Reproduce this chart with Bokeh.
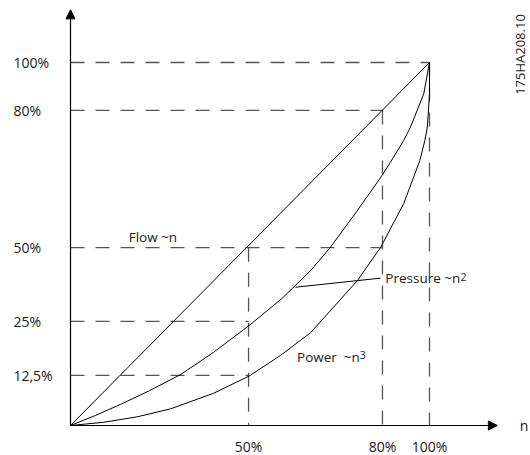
import math
from bokeh.plotting import figure
from bokeh.models import Range1d, Arrow, NormalHead
from bokeh.core.properties import value
from bokeh.embed import file_html
from bokeh.resources import INLINE

# ---- data (schematic affinity-law chart; axis positions are not linear) ----
y_tick_labels = ["100%", "80%", "50%", "25%", "12,5%"]
y_tick_pos = [100, 86.8, 49.0, 28.7, 13.8]
x_tick_labels = ["50%", "80%", "100%"]
x_tick_pos = [49.6, 86.9, 100]

flow_x = [0, 100]
flow_y = [0, 100]

pressure_x = [0, 7.0, 13.9, 22.0, 30.6, 39.9, 49.7, 58.8, 66.9, 72.4, 79.6, 86.8, 89.1, 92.8, 94.7, 98.4, 100]
pressure_y = [0, 2.8, 5.8, 9.6, 14.0, 20.2, 27.5, 34.9, 42.7, 49.1, 58.8, 68.9, 72.5, 78.5, 82.2, 91.4, 100]

power_x = [0, 9.3, 18.6, 27.9, 39.9, 49.7, 58.5, 66.9, 79.9, 86.4, 92.8, 97.3, 98.7, 99.4, 100, 100]
power_y = [0, 0.9, 2.4, 4.6, 8.9, 13.6, 19.3, 25.6, 39.9, 49.1, 61.1, 73.0, 78.5, 82.2, 91.4, 100]

curve_labels = ["Flow ~n", "Pressure ~n", "Power\u00a0\u00a0~n"]
curve_label_x = [16.2, 87.7, 63.1]
curve_label_y = [51.8, 40.6, 18.8]
sup_labels = ["2", "3"]
sup_x = [108.6, 80.6]
sup_y = [40.9, 19.4]
leader_x = [62.7, 86.4]
leader_y = [38.1, 40.6]

x_axis_name = "n"
doc_id = "175HA208.10"

FONT = "Open Sans"
TXT = "#1a1a1a"
DASH = "#555555"

p = figure(width=530, height=455,
           x_range=Range1d(-19.50, 128.13), y_range=Range1d(-8.26, 117.08),
           x_axis_type=None, y_axis_type=None,
           output_backend="svg", toolbar_location=None, min_border=0)
p.grid.visible = False
p.outline_line_color = None
p.background_fill_color = "white"
p.border_fill_color = "white"

# dashed guide lines
h_end = [x_tick_pos[2], x_tick_pos[1], x_tick_pos[1], x_tick_pos[0], x_tick_pos[0]]
p.segment(x0=[0] * len(y_tick_pos), y0=y_tick_pos, x1=h_end, y1=y_tick_pos,
          line_color=DASH, line_width=1.3, line_dash="14 11")
v_top = [y_tick_pos[2], y_tick_pos[1], y_tick_pos[0]]
p.segment(x0=x_tick_pos, y0=v_top, x1=x_tick_pos, y1=[0] * len(x_tick_pos),
          line_color=DASH, line_width=1.3, line_dash="14 11")

# curves
p.line(flow_x, flow_y, line_color="black", line_width=1)
p.line(pressure_x, pressure_y, line_color="black", line_width=1)
p.line(power_x, power_y, line_color="black", line_width=1)
p.line(leader_x, leader_y, line_color="black", line_width=1)

# axes with arrows
p.add_layout(Arrow(x_start=0, y_start=0, x_end=0, y_end=114.5, line_width=1.2,
                   line_color="black",
                   end=NormalHead(size=9, fill_color="black", line_color="black")))
p.add_layout(Arrow(x_start=0, y_start=0, x_end=118.9, y_end=0, line_width=1.2,
                   line_color="black",
                   end=NormalHead(size=9, fill_color="black", line_color="black")))

# tick labels
p.text(x=[-15.9] * len(y_tick_pos), y=y_tick_pos, text=y_tick_labels,
       text_font=value(FONT), text_font_size="14px", text_color=TXT,
       text_align="left", text_baseline="middle")
p.text(x=x_tick_pos, y=[-5.8] * len(x_tick_pos), text=x_tick_labels,
       text_font=value(FONT), text_font_size="14px", text_color=TXT,
       text_align="center", text_baseline="middle")

# curve labels
p.text(x=curve_label_x, y=curve_label_y, text=curve_labels,
       text_font=value(FONT), text_font_size="13.5px", text_color=TXT,
       text_align="left", text_baseline="middle")
p.text(x=sup_x, y=sup_y, text=sup_labels,
       text_font=value(FONT), text_font_size="10.5px", text_color=TXT,
       text_align="left", text_baseline="middle")

# axis name and document id
p.text(x=[126.3], y=[0], text=[x_axis_name],
       text_font=value(FONT), text_font_size="14px", text_color=TXT,
       text_align="center", text_baseline="middle")
p.text(x=[125.3], y=[102.2], text=[doc_id], angle=math.pi / 2,
       text_font=value(FONT), text_font_size="13px", text_color=TXT,
       text_align="center", text_baseline="middle")

open("out.html", "w").write(file_html(p, INLINE))
